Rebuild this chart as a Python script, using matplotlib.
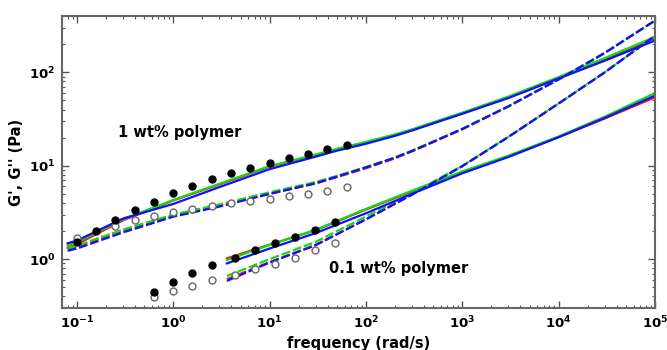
import numpy as np
import matplotlib.pyplot as plt
from matplotlib.ticker import FuncFormatter, LogLocator, FixedLocator, NullFormatter

# measured data, 1 wt% polymer
freq_1 = [0.1, 0.158, 0.251, 0.398, 0.631, 1.0, 1.58, 2.51, 3.98, 6.31, 10, 15.8, 25.1, 39.8, 63.1]
g_storage_1 = [1.51, 1.99, 2.63, 3.33, 4.13, 5.06, 6.12, 7.14, 8.27, 9.36, 10.6, 11.97, 13.4, 15.0, 16.5]
freq_1_loss = [0.1, 0.251, 0.398, 0.631, 1.0, 1.58, 2.51, 3.98, 6.31, 10, 15.8, 25.1, 39.8, 63.1]
g_loss_1 = [1.68, 2.27, 2.61, 2.93, 3.23, 3.48, 3.74, 3.99, 4.16, 4.37, 4.70, 4.98, 5.32, 5.91]

# measured data, 0.1 wt% polymer
freq_01 = [0.631, 1.0, 1.58, 2.51, 4.33, 7.1, 11.3, 18.3, 29.6, 48.1]
g_storage_01 = [0.441, 0.573, 0.709, 0.863, 1.04, 1.25, 1.48, 1.73, 2.05, 2.50]
g_loss_01 = [0.393, 0.455, 0.519, 0.597, 0.675, 0.782, 0.885, 1.04, 1.24, 1.48]

# model curves (red, green, blue), 1 wt%
fit_freq_1 = [0.08, 0.1, 0.3, 1, 3, 10, 30, 50, 100, 200, 300, 500, 1e3, 3e3, 1e4, 3e4, 1e5]
fit_storage_1 = {
    'red':   [1.33, 1.45, 2.60, 4.25, 6.3, 9.8, 13.0, 15.0, 17.7, 21.4, 24.2, 28.8, 36.5, 54, 87, 136, 232],
    'green': [1.41, 1.52, 2.67, 4.30, 6.4, 9.9, 13.2, 15.2, 18.0, 21.7, 24.5, 29.2, 37.0, 55, 89, 142, 240],
    'blue':  [1.48, 1.58, 2.72, 3.90, 5.9, 9.2, 12.5, 14.5, 17.2, 20.9, 23.8, 28.4, 36.0, 53, 86, 133, 219],
}
fit_loss_1 = {
    'red':   [1.28, 1.36, 2.02, 2.93, 3.75, 5.0, 6.45, 7.55, 9.4, 12.0, 14.2, 17.9, 24.5, 43.0, 84, 161, 358],
    'green': [1.31, 1.40, 2.07, 3.00, 3.85, 5.2, 6.70, 7.80, 9.7, 12.3, 14.5, 18.2, 24.8, 43.2, 84, 161, 358],
    'blue':  [1.23, 1.30, 1.93, 2.85, 3.65, 5.0, 6.50, 7.65, 9.6, 12.2, 14.4, 18.1, 24.8, 43.2, 84, 161, 358],
}

# model curves, 0.1 wt%
fit_freq_01 = [3.6, 10, 30, 100, 300, 1e3, 3e3, 1e4, 3e4, 1e5]
fit_storage_01 = {
    'red':   [1.02, 1.43, 2.04, 3.40, 5.3, 8.6, 12.6, 20.3, 32.0, 54.0],
    'green': [0.98, 1.42, 2.06, 3.45, 5.4, 8.7, 12.8, 20.6, 33.5, 60.0],
    'blue':  [0.90, 1.30, 1.90, 3.10, 5.0, 8.3, 12.4, 20.2, 32.5, 56.3],
}
fit_loss_01 = {
    'red':   [0.61, 0.93, 1.42, 2.67, 4.90, 9.90, 20.3, 46.4, 99.7, 246],
    'green': [0.66, 1.00, 1.53, 2.86, 5.06, 10.0, 20.3, 46.4, 99.7, 246],
    'blue':  [0.585, 0.92, 1.41, 2.67, 4.90, 9.90, 20.3, 46.4, 99.7, 246],
}

colors = {'red': '#ff1010', 'green': '#10dd10', 'blue': '#1010ff'}
x_major = [0.1, 1, 10, 100, 1e3, 1e4, 1e5]
y_major = [1, 10, 100]

plt.rcParams['mathtext.fontset'] = 'dejavusans'

fig = plt.figure(figsize=(6.67, 3.5), dpi=100)
ax = fig.add_axes([0.093, 0.12, 0.889, 0.834])
ax.set_xscale('log')
ax.set_yscale('log')

for name in ['red', 'green', 'blue']:
    c = colors[name]
    ax.plot(fit_freq_1, fit_storage_1[name], color=c, lw=1.6)
    ax.plot(fit_freq_1, fit_loss_1[name], color=c, lw=1.6, dashes=(4, 1.3))
    ax.plot(fit_freq_01, fit_storage_01[name], color=c, lw=1.6)
    ax.plot(fit_freq_01, fit_loss_01[name], color=c, lw=1.6, dashes=(4, 1.3))

ax.plot(freq_1_loss, g_loss_1, 'o', ms=5, mfc='white', mec='#666666', mew=1.0, ls='none')
ax.plot(freq_01, g_loss_01, 'o', ms=5, mfc='white', mec='#666666', mew=1.0, ls='none')
ax.plot(freq_1, g_storage_1, 'o', ms=5, color='black', ls='none')
ax.plot(freq_01, g_storage_01, 'o', ms=5, color='black', ls='none')

ax.set_xlim(0.07, 1e5)
ax.set_ylim(0.3, 400)

def fmt(v, pos):
    e = int(round(np.log10(v)))
    return r'$\mathbf{10^{%d}}$' % e

ax.xaxis.set_major_locator(FixedLocator(x_major))
ax.yaxis.set_major_locator(FixedLocator(y_major))
for axis in [ax.xaxis, ax.yaxis]:
    axis.set_minor_locator(LogLocator(base=10, subs=np.arange(2, 10), numticks=20))
    axis.set_major_formatter(FuncFormatter(fmt))
    axis.set_minor_formatter(NullFormatter())

ax.tick_params(which='both', direction='in', top=True, right=True, color='#555555')
ax.tick_params(which='major', length=5, width=1, labelsize=9.5, pad=5)
ax.tick_params(which='minor', length=2.5, width=0.8)
for sp in ax.spines.values():
    sp.set_color('#666666')
    sp.set_linewidth(1.5)

ax.set_xlabel('frequency (rad/s)', fontsize=10.5, fontweight='bold', labelpad=3)
ax.set_ylabel("G', G'' (Pa)", fontsize=10.5, fontweight='bold', labelpad=3)

ax.text(0.268, 22.7, '1 wt% polymer', fontsize=10.5, fontweight='bold', ha='left', va='center')
ax.text(41.7, 0.80, '0.1 wt% polymer', fontsize=10.5, fontweight='bold', ha='left', va='center')

fig.savefig('out.png', dpi=100)
